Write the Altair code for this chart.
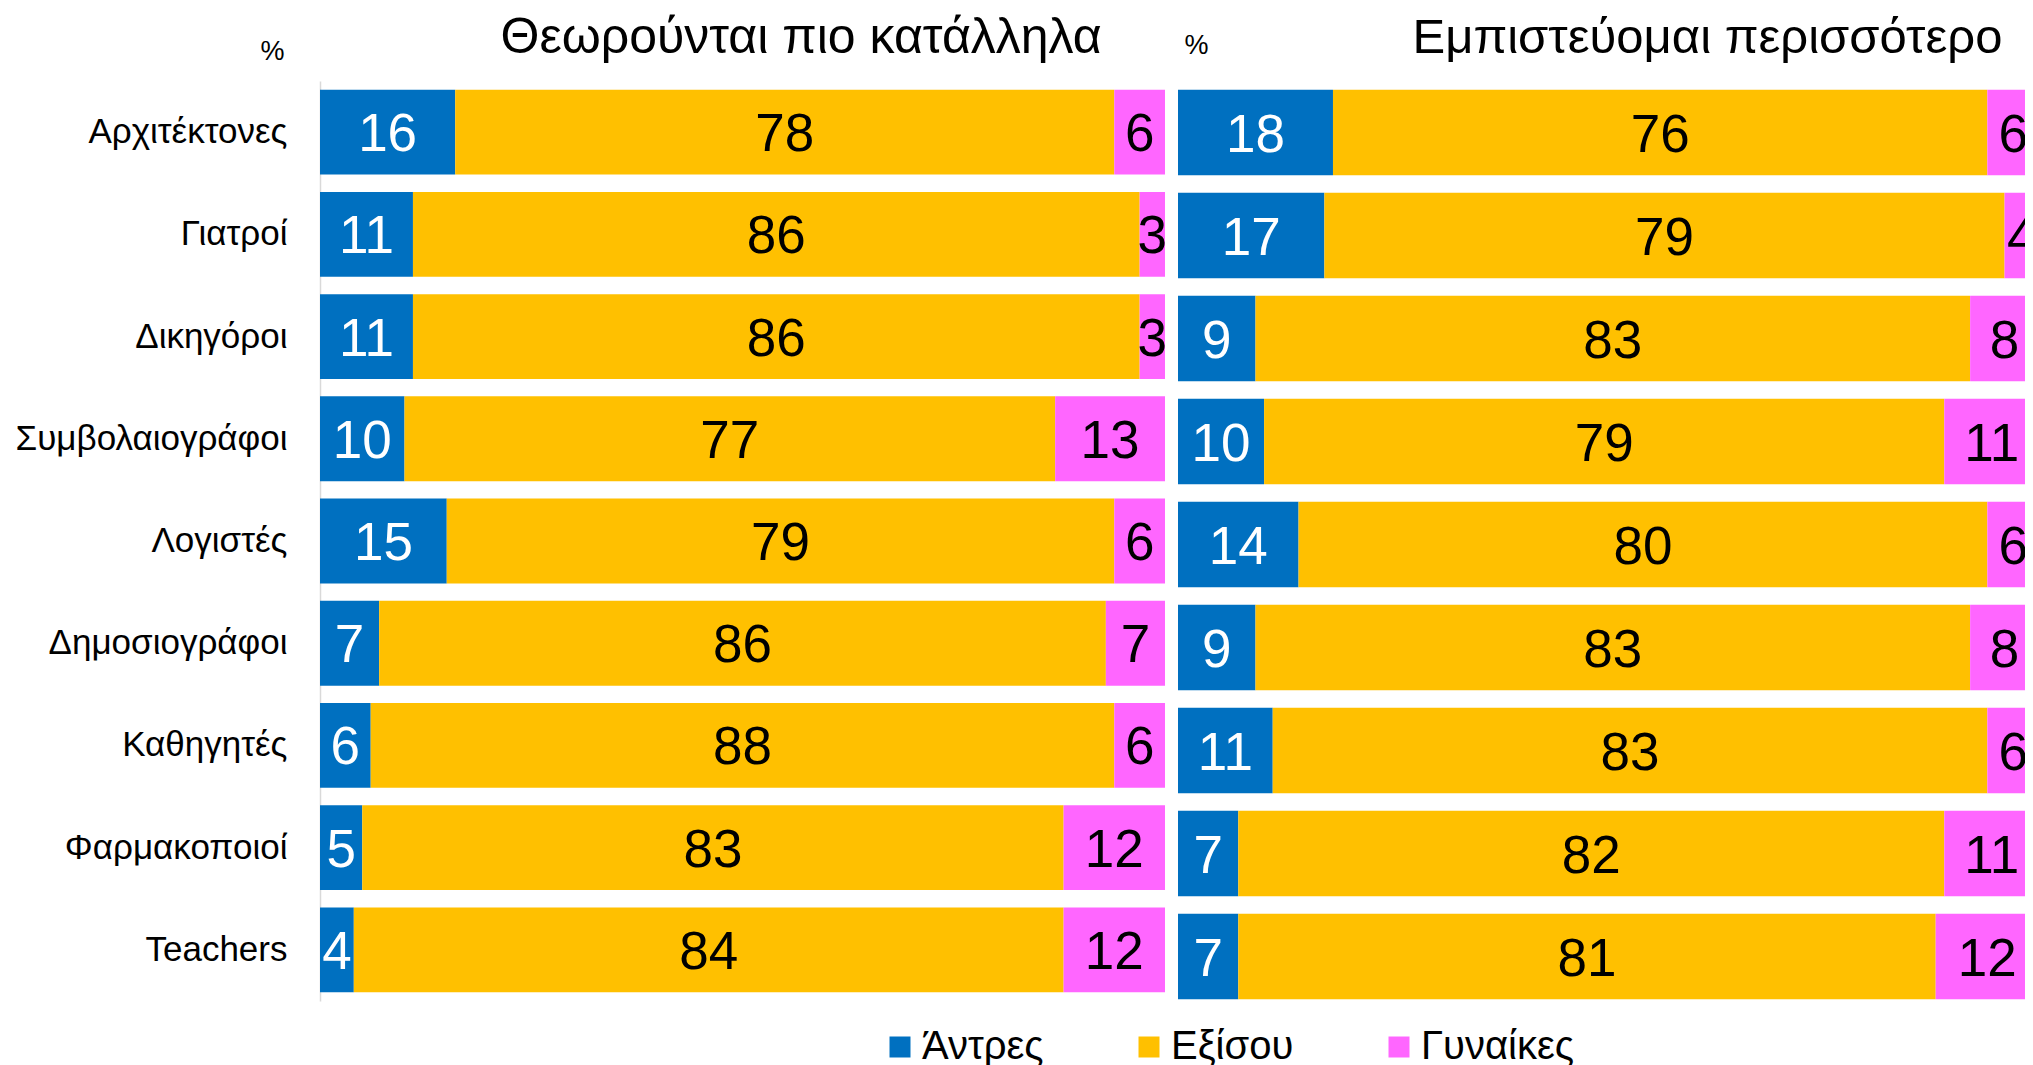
import altair as alt
import pandas as pd

categories = ["Αρχιτέκτονες", "Γιατροί", "Δικηγόροι", "Συμβολαιογράφοι", "Λογιστές",
              "Δημοσιογράφοι", "Καθηγητές", "Φαρμακοποιοί", "Teachers"]
groups = ["Άντρες", "Εξίσου", "Γυναίκες"]
colors = ["#0070C0", "#FFC000", "#FF66FF"]

left_title = "Θεωρούνται πιο κατάλληλα"
left_men = [16, 11, 11, 10, 15, 7, 6, 5, 4]
left_equal = [78, 86, 86, 77, 79, 86, 88, 83, 84]
left_women = [6, 3, 3, 13, 6, 7, 6, 12, 12]

right_title = "Εμπιστεύομαι περισσότερο"
right_men = [18, 17, 9, 10, 14, 9, 11, 7, 7]
right_equal = [76, 79, 83, 79, 80, 83, 83, 82, 81]
right_women = [6, 4, 8, 11, 6, 8, 6, 11, 12]

FONT = "Liberation Sans"


def make_df(men, equal, women):
    rows = []
    for i, c in enumerate(categories):
        for j, (g, v) in enumerate(zip(groups, [men[i], equal[i], women[i]])):
            rows.append({"category": c, "group": g, "value": v, "order": j})
    return pd.DataFrame(rows)


legend = alt.Legend(
    orient="none", legendX=560, legendY=946, direction="horizontal", columns=3,
    title=None, symbolType="square", symbolSize=441, symbolStrokeWidth=0, symbolOpacity=1,
    labelFontSize=40, labelFont=FONT, labelColor="black", labelOffset=2,
    columnPadding=85, padding=0,
)


def panel(df, title, width, height, xmax, show_labels, pct_x, pct_y, pct_align,
          title_dx, title_size):
    base = alt.Chart(df).transform_stack(
        stack="value", as_=["x0", "x1"], groupby=["category"],
        sort=[alt.SortField("order", order="ascending")],
    ).transform_calculate(mid="(datum.x0 + datum.x1) / 2")
    xscale = alt.Scale(domain=[0, xmax], nice=False, zero=True)
    yscale = alt.Scale(domain=categories, paddingInner=0.17, paddingOuter=0.085)
    yaxis = alt.Axis(
        title="%", titleAngle=0, titleX=pct_x, titleY=pct_y, titleAlign=pct_align,
        titleBaseline="alphabetic", titleFontSize=27, titleFontWeight="normal",
        titleFont=FONT, titleColor="black",
        labels=show_labels, labelFontSize=35, labelFont=FONT, labelColor="black",
        labelPadding=33, labelLimit=400, ticks=False, grid=False,
        domain=show_labels, domainColor="#D9D9D9", domainWidth=1.5,
    )
    xaxis = alt.Axis(
        orient="top", title=title, titleX=title_dx, titleY=-29, titleAlign="left",
        titleBaseline="alphabetic", titleFontSize=title_size, titleFontWeight="normal",
        titleFont=FONT, titleColor="black",
        labels=False, ticks=False, domain=False, grid=False,
    )
    bars = base.mark_bar(clip=True).encode(
        y=alt.Y("category:N", scale=yscale, axis=yaxis),
        x=alt.X("x0:Q", scale=xscale, axis=xaxis),
        x2="x1:Q",
        color=alt.Color("group:N", scale=alt.Scale(domain=groups, range=colors), legend=legend),
    )
    text = base.mark_text(clip=True, fontSize=53, font=FONT, baseline="middle", align="center",
                          dy=3).encode(
        y=alt.Y("category:N", axis=yaxis),
        x=alt.X("mid:Q", axis=xaxis),
        text=alt.Text("value:Q"),
        color=alt.condition(alt.datum.group == "Άντρες", alt.value("white"), alt.value("black")),
    )
    return alt.layer(bars, text).properties(width=width, height=height)


left = panel(make_df(left_men, left_equal, left_women), left_title, 845, 920, 100,
             True, -36, -22, "right", 180, 50)
right = panel(make_df(right_men, right_equal, right_women), right_title, 847, 927, 100 * 847 / 861,
              False, 6, -28, "left", 234, 49)

chart = alt.hconcat(left, right, spacing=13, bounds="flush").resolve_scale(
    color="shared"
).resolve_legend(color="shared").properties(
    padding={"left": 7, "top": 4, "right": 0, "bottom": 0}
).configure_view(stroke=None)

chart.save("out.html", embed_options={"renderer": "svg", "actions": False})
